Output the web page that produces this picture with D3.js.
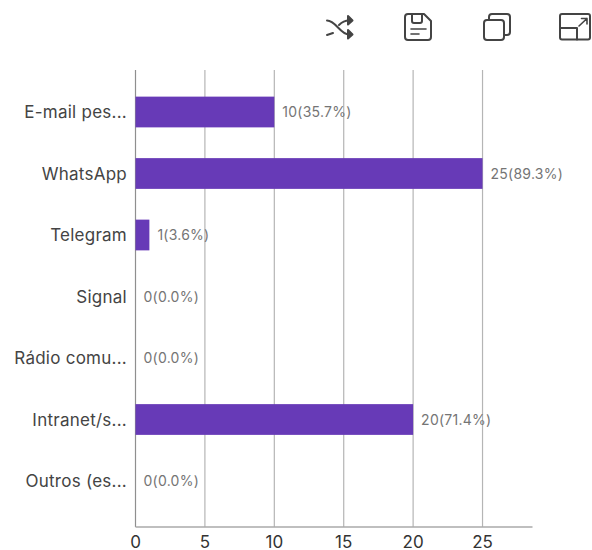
<!DOCTYPE html>
<html><head><meta charset="utf-8">
<script src="https://cdnjs.cloudflare.com/ajax/libs/d3/7.8.5/d3.min.js"></script>
<style>html,body{margin:0;padding:0;background:#fff}svg{display:block;font-family:Inter,"Noto Sans",sans-serif}</style>
</head><body><svg id="c" width="592" height="550"></svg>
<script>
const categories = ["E-mail pes...","WhatsApp","Telegram","Signal","Rádio comu...","Intranet/s...","Outros (es..."];
const counts = [10,25,1,0,0,20,0];
const percents = ["35.7","89.3","3.6","0.0","0.0","71.4","0.0"];
const ticks = [0,5,10,15,20,25];

const svg = d3.select("#c");
const x = d3.scaleLinear().domain([0,28.6]).range([135.5,532.5]);
const y = d3.scaleBand().domain(categories).range([81.25,511.75]).paddingInner(0.5).paddingOuter(0.25);
const gridTop = 70, gridBottom = 527;

// vertical grid
svg.append("g").selectAll("line").data(ticks).join("line")
  .attr("x1",d=>x(d)).attr("x2",d=>x(d)).attr("y1",gridTop).attr("y2",gridBottom)
  .attr("stroke",d=>d===0?"#8f8f8f":"#b5b5b5").attr("stroke-width",1.2);

// bars
svg.append("g").selectAll("rect").data(counts).join("rect")
  .attr("x",x(0)).attr("y",(d,i)=>y(categories[i]))
  .attr("width",d=>x(d)-x(0)).attr("height",y.bandwidth()).attr("fill","#673ab7");

// value labels
svg.append("g").selectAll("text").data(counts).join("text")
  .attr("x",d=>x(d)+8).attr("y",(d,i)=>y(categories[i])+y.bandwidth()/2+5)
  .attr("font-size",14).attr("letter-spacing",0.25).attr("fill","#757575")
  .text((d,i)=>`${d}(${percents[i]}%)`);

// category labels
svg.append("g").selectAll("text").data(categories).join("text")
  .attr("x",127).attr("y",d=>y(d)+y.bandwidth()/2+6.2)
  .attr("text-anchor","end").attr("font-size",17).attr("letter-spacing",0.25).attr("fill","#444").text(d=>d);

// x axis
svg.append("line").attr("x1",x(0)).attr("x2",532.5).attr("y1",gridBottom).attr("y2",gridBottom)
  .attr("stroke","#aaa").attr("stroke-width",1.4);
svg.append("g").selectAll("text").data(ticks).join("text")
  .attr("x",d=>x(d)).attr("y",548).attr("text-anchor","middle")
  .attr("font-size",17).attr("fill","#333").text(d=>d);

// toolbar icons
const ic = svg.append("g").attr("fill","none").attr("stroke","#444").attr("stroke-width",2).attr("stroke-linejoin","round").attr("stroke-linecap","round");
// shuffle
ic.append("path").attr("d","M327 20.5 C336 20.5 340 34.5 349 34.5 M327 35 L333 33 M339 25 C342 22 345 20.5 349 20.5");
ic.append("path").attr("d","M348 16 L352.5 20.5 L348 24.5 Z M348 30 L352.5 34.5 L348 38.5 Z").attr("fill","#444");
// save
ic.append("path").attr("d","M408 14 H424 L431 21 V37 Q431 40 428 40 H408 Q405 40 405 37 V17 Q405 14 408 14 Z");
ic.append("path").attr("d","M412 14 V21 Q412 23 414 23 H420 Q422 23 422 21 V14");
ic.append("path").attr("d","M411 29 H426 M411 34 H419").attr("stroke-width",1.6);
// copy
ic.append("rect").attr("x",484).attr("y",20).attr("width",20).attr("height",20).attr("rx",3);
ic.append("path").attr("d","M489 20 V17 Q489 14 492 14 H507 Q510 14 510 17 V32 Q510 35 507 35 H504");
// expand
ic.append("rect").attr("x",560).attr("y",14).attr("width",30).attr("height",25.5).attr("rx",2);
ic.append("path").attr("d","M560 28 H577 V39.5");
ic.append("path").attr("d","M579 26 L587 18.5 M581.5 18.5 H587 V24").attr("stroke-width",1.6);
</script></body></html>
